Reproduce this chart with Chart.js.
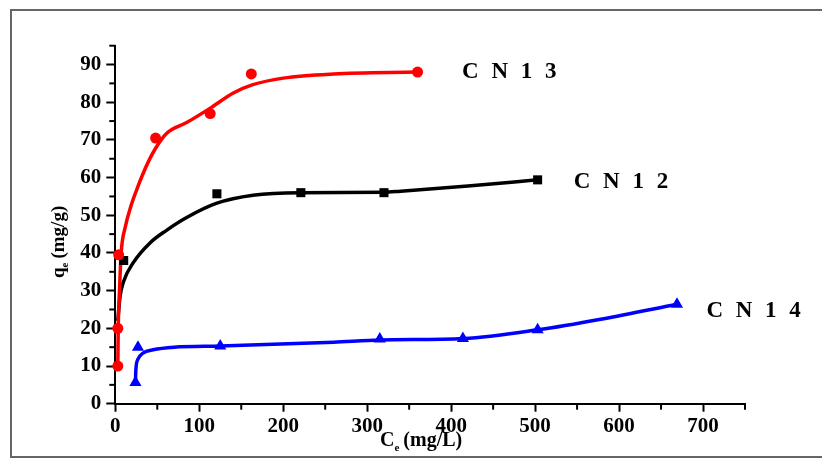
<!DOCTYPE html>
<html>
<head>
<meta charset="utf-8">
<script src="https://cdn.jsdelivr.net/npm/chart.js@4/dist/chart.umd.min.js"></script>
<style>
  html, body { margin: 0; padding: 0; background: #fff; }
  #wrap { width: 822px; height: 459px; }
</style>
</head>
<body>
<div id="wrap"><canvas id="isotherm" width="822" height="459"></canvas></div>
<script>
// measured points (Ce mg/L, qe mg/g)
const cn13X = [3, 3, 4, 48, 113, 162, 360];
const cn13Y = [10, 20, 39.5, 70.5, 77, 87.5, 88];
const cn12X = [10, 121, 221, 320, 503];
const cn12Y = [38, 55.7, 56, 56, 59.4];
const cn14X = [24, 27, 125, 315, 414, 503, 669];
const cn14Y = [5.6, 15, 15.3, 17.2, 17.3, 19.6, 26.4];

// fitted curves
const fit13X = [3, 3.5, 5, 7, 12, 18, 25, 32, 40, 48, 61, 85, 115, 140, 163, 200, 260, 360];
const fit13Y = [10, 20, 30, 40, 47, 52, 56.5, 60.5, 64.5, 67.8, 71.7, 74.6, 78.7, 82.4, 84.6, 86.4, 87.5, 88];
const fit12X = [3, 5.6, 10, 21, 41, 61, 85, 121, 164, 220, 319, 340, 420, 503];
const fit12Y = [22, 28.4, 32.5, 37.3, 42.6, 46, 49.4, 53.2, 55.3, 56, 56.1, 56.4, 57.8, 59.4];
const fit14X = [24, 24.5, 27, 33, 45, 70, 125, 260, 315, 415, 503, 580, 669];
const fit14Y = [5.6, 9, 11.8, 13.4, 14.3, 15, 15.3, 16.3, 16.9, 17.3, 19.6, 22.5, 26.4];

// series names placed beside the curve ends
const seriesNames = ['C N 1 3', 'C N 1 2', 'C N 1 4'];
const nameX = [413, 546, 704];
const nameY = [88, 58.9, 24.6];

// axis ticks
const xMajor = [0, 100, 200, 300, 400, 500, 600, 700];
const xMinor = [50, 150, 250, 350, 450, 550, 650, 750];
const yMajor = [0, 10, 20, 30, 40, 50, 60, 70, 80, 90];
const yMinor = [5, 15, 25, 35, 45, 55, 65, 75, 85, 95];

const SERIF = "'Times New Roman', 'Liberation Serif', serif";
const pts = (xs, ys) => xs.map((x, i) => ({ x: x, y: ys[i] }));

const fitStyle = (color) => ({
    type: 'line',
    borderColor: color,
    borderWidth: 3.5,
    pointRadius: 0,
    fill: false,
    cubicInterpolationMode: 'monotone',
    order: 2
});
const markStyle = (color, style, r) => ({
    type: 'scatter',
    backgroundColor: color,
    borderColor: color,
    borderWidth: 0,
    pointStyle: style,
    pointRadius: r,
    showLine: false,
    order: 1
});

// minor ticks, frame, axis titles and series names
const decorations = {
    id: 'decorations',
    beforeDraw(chart) {
        const ctx = chart.ctx;
        ctx.save();
        ctx.fillStyle = '#fff';
        ctx.fillRect(0, 0, chart.width, chart.height);
        ctx.restore();
    },
    afterDraw(chart) {
        const ctx = chart.ctx;
        const xs = chart.scales.x, ys = chart.scales.y;
        const area = chart.chartArea;
        ctx.save();

        // minor ticks
        ctx.strokeStyle = '#000';
        ctx.lineWidth = 2;
        xMinor.forEach(v => {
            const px = xs.getPixelForValue(v);
            ctx.beginPath(); ctx.moveTo(px, area.bottom); ctx.lineTo(px, area.bottom + 6); ctx.stroke();
        });
        yMinor.forEach(v => {
            const py = ys.getPixelForValue(v);
            ctx.beginPath(); ctx.moveTo(area.left, py); ctx.lineTo(area.left - 6, py); ctx.stroke();
        });

        // outer frame
        ctx.strokeStyle = '#666';
        ctx.lineWidth = 2;
        ctx.strokeRect(11, 10, 814, 447);

        // series names
        ctx.fillStyle = '#000';
        ctx.font = 'bold 23px ' + SERIF;
        ctx.textBaseline = 'middle';
        ctx.textAlign = 'left';
        ctx.letterSpacing = '3.5px';
        seriesNames.forEach((n, i) => {
            ctx.fillText(n, xs.getPixelForValue(nameX[i]), ys.getPixelForValue(nameY[i]));
        });
        ctx.letterSpacing = '0px';

        // x title: Ce (mg/L)
        ctx.textBaseline = 'alphabetic';
        let x = 380;
        ctx.font = 'bold 20px ' + SERIF;
        ctx.fillText('C', x, 446);
        x += ctx.measureText('C').width;
        ctx.font = 'bold 11px ' + SERIF;
        ctx.fillText('e', x, 451);
        x += ctx.measureText('e').width + 4;
        ctx.font = 'bold 20px ' + SERIF;
        ctx.fillText('(mg/L)', x, 446);

        // y title: qe (mg/g), rotated
        ctx.translate(64, 278);
        ctx.rotate(-Math.PI / 2);
        let y = 0;
        ctx.font = 'bold 19px ' + SERIF;
        ctx.fillText('q', y, 0);
        y += ctx.measureText('q').width;
        ctx.font = 'bold 11px ' + SERIF;
        ctx.fillText('e', y, 4);
        y += ctx.measureText('e').width + 4;
        ctx.font = 'bold 19px ' + SERIF;
        ctx.fillText('(mg/g)', y, 0);

        ctx.restore();
    }
};

new Chart(document.getElementById('isotherm'), {
    data: {
        datasets: [
            Object.assign({ label: 'CN13 fit', data: pts(fit13X, fit13Y) }, fitStyle('#ff0000')),
            Object.assign({ label: 'CN12 fit', data: pts(fit12X, fit12Y) }, fitStyle('#000000')),
            Object.assign({ label: 'CN14 fit', data: pts(fit14X, fit14Y) }, fitStyle('#0000ff')),
            Object.assign({ label: 'CN13', data: pts(cn13X, cn13Y) }, markStyle('#ff0000', 'circle', 5.5)),
            Object.assign({ label: 'CN12', data: pts(cn12X, cn12Y) }, markStyle('#000000', 'rect', 6.4)),
            Object.assign({ label: 'CN14', data: pts(cn14X, cn14Y) }, markStyle('#0000ff', 'triangle', 7))
        ]
    },
    options: {
        responsive: false,
        animation: false,
        clip: false,
        layout: { padding: { left: 55.3, top: 45.7, right: 77, bottom: 15.3 } },
        plugins: {
            legend: { display: false },
            tooltip: { enabled: false }
        },
        scales: {
            x: {
                type: 'linear',
                min: 0,
                max: 750,
                afterFit: (s) => { s.height = 40; },
                afterBuildTicks: (s) => { s.ticks = xMajor.map(v => ({ value: v })); },
                border: { display: true, color: '#000', width: 2 },
                grid: { drawOnChartArea: false, drawTicks: true, tickLength: 8, tickWidth: 2, tickColor: '#000' },
                ticks: {
                    padding: 2,
                    color: '#000',
                    font: { family: SERIF, size: 21, weight: 'bold' },
                    maxRotation: 0
                }
            },
            y: {
                type: 'linear',
                min: 0,
                max: 95,
                afterFit: (s) => { s.width = 60; },
                afterBuildTicks: (s) => { s.ticks = yMajor.map(v => ({ value: v })); },
                border: { display: true, color: '#000', width: 2 },
                grid: { drawOnChartArea: false, drawTicks: true, tickLength: 9, tickWidth: 2, tickColor: '#000' },
                ticks: {
                    padding: 5,
                    color: '#000',
                    font: { family: SERIF, size: 21, weight: 'bold' }
                }
            }
        }
    },
    plugins: [decorations]
});
</script>
</body>
</html>
